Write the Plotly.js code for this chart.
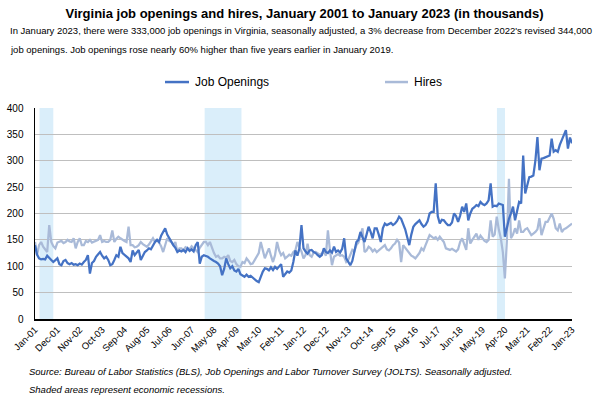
<!DOCTYPE html>
<html>
<head>
<meta charset="utf-8">
<script src="https://cdn.plot.ly/plotly-3.0.1.min.js"></script>
<style>html,body{margin:0;padding:0;background:#fff;}#chart{width:609px;height:395px;}</style>
</head>
<body>
<div id="chart"></div>
<script>
// Job openings (thousands), Virginia, monthly Jan 2001 - Jan 2023
const openings2001_2005 = [
  140,122,115,113,114,113,120,115,112,108,112,115,
  104,102,110,112,106,104,106,103,104,102,105,103,
  108,112,121,86,106,110,118,122,127,120,115,118,
  112,102,104,112,121,118,137,125,121,118,115,108,
  130,121,125,131,112,120,127,130,134,132,140,146
];
const openings2006_2010 = [
  150,146,158,165,172,160,153,148,140,135,127,130,
  128,131,127,134,129,132,128,140,146,105,118,121,
  120,118,115,112,110,108,105,100,83,95,115,104,
  96,100,92,90,95,85,82,80,84,80,82,78,
  76,72,70,82,90,96,95,92,98,93,99,95
];
const openings2011_2015 = [
  100,104,80,85,90,88,92,108,130,120,134,178,
  134,128,124,130,131,127,125,121,118,121,134,127,
  125,130,126,137,127,130,126,133,153,115,108,102,
  110,130,146,150,165,155,146,160,175,165,153,172,
  172,160,146,172,181,178,180,182,178,181,186,194
];
const openings2016_2020 = [
  190,181,170,155,140,160,175,180,184,187,180,175,
  178,185,200,203,203,257,195,181,188,187,182,178,
  178,183,200,195,184,196,213,203,219,187,200,209,
  212,216,214,222,218,216,219,225,257,213,215,214,
  219,218,216,156,175,190,200,213,187,205,222,219
];
const openings2021_2023 = [
  310,238,255,269,270,272,300,345,282,304,305,307,
  308,310,342,317,320,317,330,339,350,358,323,344,
  333
];

// Hires (thousands)
const hires2001_2005 = [
  146,121,140,146,137,133,127,178,146,138,134,145,
  146,148,144,146,150,147,146,153,134,146,153,140,
  140,148,146,150,145,147,148,150,159,146,148,146,
  146,150,168,146,152,156,153,150,148,146,175,140,
  140,136,137,140,146,142,140,137,141,146,153,146
];
const hires2006_2010 = [
  150,145,138,127,140,153,148,146,140,146,127,134,
  134,130,136,134,132,138,134,130,127,135,140,146,
  146,140,146,134,125,118,120,115,115,118,116,121,
  110,108,112,104,100,99,108,106,115,110,104,105,
  112,118,125,146,130,115,125,134,120,108,121,146
];
const hires2011_2015 = [
  130,121,125,115,118,122,120,127,130,146,135,128,
  115,121,143,121,118,126,127,124,122,124,128,120,
  168,130,102,118,121,123,120,121,118,108,112,122,
  131,128,140,145,160,172,127,130,137,134,128,132,
  127,130,134,137,140,132,130,134,140,143,150,145
];
const hires2016_2020 = [
  108,140,135,130,127,120,118,115,120,125,134,130,
  140,150,159,156,153,155,150,156,150,146,134,132,
  131,133,130,128,132,146,153,140,131,172,143,150,
  155,162,150,158,153,148,146,150,187,156,160,194,
  170,153,127,77,150,266,153,160,172,162,187,165
];
const hires2021_2023 = [
  165,170,172,165,159,162,165,170,191,159,170,184,
  184,192,200,190,172,168,181,165,170,172,175,178,
  181
];

const monthNames = ['Jan','Feb','Mar','Apr','May','Jun','Jul','Aug','Sep','Oct','Nov','Dec'];
const tickLabels = ['Jan-01','Dec-01','Nov-02','Oct-03','Sep-04','Aug-05','Jul-06','Jun-07','May-08','Apr-09','Mar-10','Feb-11','Jan-12','Dec-12','Nov-13','Oct-14','Sep-15','Aug-16','Jul-17','Jun-18','May-19','Apr-20','Mar-21','Feb-22','Jan-23'];
// recession periods as month positions (index from Jan-01)
const recessionStart = [2.2, 83.4, 227.1];
const recessionEnd = [9.0, 101.5, 231.05];

const openings = [].concat(openings2001_2005, openings2006_2010, openings2011_2015, openings2016_2020, openings2021_2023);
const hires = [].concat(hires2001_2005, hires2006_2010, hires2011_2015, hires2016_2020, hires2021_2023);

const months = [];
for (let i = 0; i < openings.length; i++) {
  const y = 2001 + Math.floor(i / 12);
  months.push(monthNames[i % 12] + '-' + String(y % 100).padStart(2, '0'));
}

const FONT = 'Arial, "Liberation Sans", sans-serif';
const JO_COLOR = '#4472C4';
const HI_COLOR = '#A9BAD8';

const traces = [
  {x: months, y: hires, type: 'scatter', mode: 'lines', name: 'Hires',
   line: {color: HI_COLOR, width: 2.25}, showlegend: false},
  {x: months, y: openings, type: 'scatter', mode: 'lines', name: 'Job Openings',
   line: {color: JO_COLOR, width: 2.25}, showlegend: false}
];

const shapes = recessionStart.map((s, i) => ({
  type: 'rect', xref: 'x', yref: 'paper', x0: s, x1: recessionEnd[i], y0: 0, y1: 1,
  fillcolor: '#DAEEFA', line: {width: 0}, layer: 'below'
}));
// legend samples
shapes.push({type: 'line', xref: 'paper', yref: 'paper', x0: 0.2421, x1: 0.2868, y0: 1.123, y1: 1.123, line: {color: JO_COLOR, width: 2.5}});
shapes.push({type: 'line', xref: 'paper', yref: 'paper', x0: 0.6518, x1: 0.6946, y0: 1.123, y1: 1.123, line: {color: HI_COLOR, width: 2.5}});

const annotations = [
  {text: 'In January 2023, there were 333,000 job openings in Virginia, seasonally adjusted, a 3% decrease from December 2022\'s revised 344,000',
   xref: 'paper', yref: 'paper', x: -0.0503, y: 1.365, xanchor: 'left', yanchor: 'middle', showarrow: false,
   font: {family: FONT, size: 9.5, color: '#000'}},
  {text: 'job openings. Job openings rose nearly 60% higher than five years earlier in January 2019.',
   xref: 'paper', yref: 'paper', x: -0.0503, y: 1.2796, xanchor: 'left', yanchor: 'middle', showarrow: false,
   font: {family: FONT, size: 9.5, color: '#000'}},
  {text: 'Job Openings', xref: 'paper', yref: 'paper', x: 0.2942, y: 1.123, xanchor: 'left', yanchor: 'middle', showarrow: false,
   font: {family: FONT, size: 12, color: '#000'}},
  {text: 'Hires', xref: 'paper', yref: 'paper', x: 0.7020, y: 1.123, xanchor: 'left', yanchor: 'middle', showarrow: false,
   font: {family: FONT, size: 12, color: '#000'}},
  {text: '<i>Source: Bureau of Labor Statistics (BLS), Job Openings and Labor Turnover Survey (JOLTS). Seasonally adjusted.</i>',
   xref: 'paper', yref: 'paper', x: -0.0149, y: -0.251, xanchor: 'left', yanchor: 'middle', showarrow: false,
   font: {family: FONT, size: 9.5, color: '#000'}},
  {text: '<i>Shaded areas represent economic recessions.</i>',
   xref: 'paper', yref: 'paper', x: -0.0149, y: -0.332, xanchor: 'left', yanchor: 'middle', showarrow: false,
   font: {family: FONT, size: 9.5, color: '#000'}}
];

const layout = {
  width: 609, height: 395,
  margin: {l: 35, r: 37, t: 108, b: 76, pad: 0},
  paper_bgcolor: '#fff', plot_bgcolor: '#fff',
  font: {family: FONT, size: 10, color: '#000'},
  title: {text: '<b>Virginia job openings and hires, January 2001 to January 2023 (in thousands)</b>',
          x: 0.5, xanchor: 'center', y: 1 - 13 / 395, yref: 'container', yanchor: 'middle',
          font: {family: FONT, size: 13, color: '#000'}},
  xaxis: {type: 'category', range: [0, months.length - 1], tickmode: 'array', tickvals: tickLabels, ticktext: tickLabels,
          tickangle: -45, showgrid: false, showline: true, linecolor: '#000', linewidth: 1.5, ticks: '',
          tickfont: {family: FONT, size: 9.5, color: '#000'}, zeroline: false, fixedrange: true},
  yaxis: {range: [0, 400], dtick: 50, showgrid: true, gridcolor: '#BFBFBF', gridwidth: 1,
          showline: true, linecolor: '#000', linewidth: 1.5, ticks: '', zeroline: false,
          tickfont: {family: FONT, size: 10, color: '#000'}, ticklabelstandoff: 8, fixedrange: true},
  shapes: shapes,
  annotations: annotations,
  showlegend: false
};

Plotly.newPlot('chart', traces, layout, {displayModeBar: false, staticPlot: true});
</script>
</body>
</html>
